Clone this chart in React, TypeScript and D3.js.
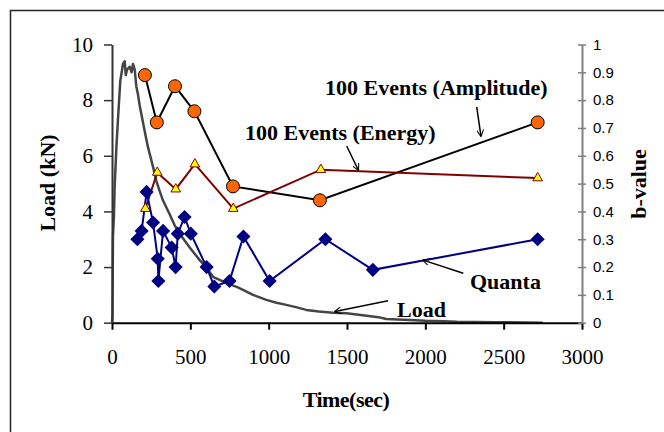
import React, { useEffect, useRef } from "react";
import * as d3 from "d3";

// Load curve (time in sec, load in kN)
const loadTime = [
  0, 3, 6, 12, 17, 28, 38, 53, 62, 70, 81, 88, 96, 113, 125, 134, 145, 155,
  166, 177, 198, 215, 230, 262, 283, 300, 325, 368, 400, 432, 496, 560, 600,
  645, 700, 730, 800, 836, 900, 985, 1050, 1113, 1180, 1240, 1320, 1411, 1496,
  1600, 1700, 1750, 1900, 2000, 2120, 2200, 2450, 2750,
];
const loadKN = [
  0, 0.3, 3.1, 3.8, 4.9, 6.3, 7.3, 8.7, 9.0, 9.3, 9.4, 8.9, 9.1, 9.2, 9.0, 9.3,
  9.1, 8.5, 8.2, 7.8, 7.2, 6.7, 6.3, 5.6, 5.1, 4.8, 4.4, 3.9, 3.5, 3.2, 2.7,
  2.25, 2.0, 1.65, 1.5, 1.42, 1.28, 1.18, 1.0, 0.82, 0.72, 0.64, 0.55, 0.46,
  0.4, 0.36, 0.34, 0.27, 0.2, 0.13, 0.1, 0.07, 0.05, 0.03, 0.02, 0,
];

// b-value series
const amplitudeTime = [210, 286, 402, 526, 772, 1327, 2717];
const amplitudeB = [0.89, 0.72, 0.85, 0.76, 0.49, 0.44, 0.72];
const energyTime = [213, 289, 407, 529, 774, 1333, 2717];
const energyB = [0.41, 0.54, 0.48, 0.57, 0.41, 0.55, 0.52];
const quantaTime = [
  162, 189, 221, 262, 292, 296, 326, 381, 406, 420, 463, 503, 604, 653, 750,
  839, 1006, 1362, 1665, 2717,
];
const quantaB = [
  0.3, 0.33, 0.47, 0.36, 0.23, 0.15, 0.33, 0.27, 0.2, 0.32, 0.38, 0.32, 0.2,
  0.13, 0.15, 0.31, 0.15, 0.3, 0.19, 0.3,
];

// ticks
const timeTicks = [0, 500, 1000, 1500, 2000, 2500, 3000];
const loadTicks = [0, 2, 4, 6, 8, 10];
const bTicks = [0, 0.1, 0.2, 0.3, 0.4, 0.5, 0.6, 0.7, 0.8, 0.9, 1];

// annotations: label [t, kN] and arrow [t0, kN0, t1, kN1]
const annotations = [
  { text: "100 Events (Amplitude)", at: [1360, 8.18], arrow: [2328, 7.76, 2355, 6.71] },
  { text: "100 Events (Energy)", at: [849, 6.57], arrow: [1498, 6.35, 1572, 5.49] },
  { text: "Quanta", at: [2285, 1.21], arrow: [2242, 1.78, 1986, 2.25] },
  { text: "Load", at: [1819, 0.2], arrow: [1762, 0.79, 1423, 0.4] },
];

const App: React.FC = () => {
  const svgRef = useRef<SVGSVGElement>(null);
  const width = 664;
  const height = 432;

  useEffect(() => {
    if (!svgRef.current) return;
    const svg = d3.select(svgRef.current);
    svg.selectAll("*").remove();

    const left = 112;
    const right = 582;
    const top = 44.5;
    const bottom = 322.7;

    const x = d3.scaleLinear().domain([0, 3000]).range([left, right]);
    const y = d3.scaleLinear().domain([0, 10]).range([bottom, top]);
    const yb = d3.scaleLinear().domain([0, 1]).range([bottom, top]);

    const serif = "'Liberation Serif', 'Times New Roman', serif";
    const sans = "'Liberation Sans', Arial, sans-serif";

    // outer frame
    svg
      .append("rect")
      .attr("x", 10.5)
      .attr("y", 10.5)
      .attr("width", 800)
      .attr("height", 600)
      .attr("fill", "none")
      .attr("stroke", "#222")
      .attr("stroke-width", 1.5);

    const defs = svg.append("defs");
    defs
      .append("marker")
      .attr("id", "arrow")
      .attr("viewBox", "0 0 10 10")
      .attr("refX", 9)
      .attr("refY", 5)
      .attr("markerWidth", 7)
      .attr("markerHeight", 7)
      .attr("markerUnits", "userSpaceOnUse")
      .attr("orient", "auto")
      .append("path")
      .attr("d", "M0,0L10,5L0,10")
      .attr("fill", "none")
      .attr("stroke", "#000")
      .attr("stroke-width", 1.5);

    // Load curve
    const loadData = loadTime.map((t, i) => [t, loadKN[i]] as [number, number]);
    svg
      .append("path")
      .datum(loadData)
      .attr("fill", "none")
      .attr("stroke", "#444")
      .attr("stroke-width", 2.5)
      .attr("stroke-linejoin", "round")
      .attr(
        "d",
        d3
          .line<[number, number]>()
          .x((d) => x(d[0]))
          .y((d) => y(d[1]))
      );

    // X axis
    svg
      .append("g")
      .attr("transform", `translate(0,${bottom})`)
      .call(
        d3
          .axisBottom(x)
          .tickValues(timeTicks)
          .tickFormat(d3.format("d"))
          .tickSizeInner(7)
          .tickSizeOuter(0)
          .tickPadding(19)
      )
      .call((g) => g.select(".domain").attr("stroke", "#000").attr("stroke-width", 2))
      .call((g) => g.selectAll(".tick line").attr("stroke", "#000").attr("stroke-width", 2))
      .call((g) =>
        g.selectAll(".tick text").attr("font-family", serif).attr("font-size", 21).attr("fill", "#000")
      );

    // Left axis
    svg
      .append("g")
      .attr("transform", `translate(${left},0)`)
      .call(
        d3
          .axisLeft(y)
          .tickValues(loadTicks)
          .tickSizeInner(8)
          .tickSizeOuter(0)
          .tickPadding(11)
      )
      .call((g) => g.select(".domain").attr("stroke", "#333").attr("stroke-width", 2))
      .call((g) => g.selectAll(".tick line").attr("stroke", "#333").attr("stroke-width", 1.5))
      .call((g) =>
        g.selectAll(".tick text").attr("font-family", serif).attr("font-size", 21).attr("fill", "#000")
      );

    // Right axis (b-value)
    svg
      .append("g")
      .attr("transform", `translate(${right},0)`)
      .call(
        d3
          .axisRight(yb)
          .tickValues(bTicks)
          .tickFormat((d) => String(+d))
          .tickSizeInner(4)
          .tickSizeOuter(0)
          .tickPadding(7)
      )
      .call((g) => g.select(".domain").attr("stroke", "#808080").attr("stroke-width", 2))
      .call((g) =>
        g.selectAll(".tick line").attr("x1", -4).attr("stroke", "#808080").attr("stroke-width", 1.5)
      )
      .call((g) =>
        g.selectAll(".tick text").attr("font-family", sans).attr("font-size", 15).attr("fill", "#000")
      );

    const bLine = d3
      .line<[number, number]>()
      .x((d) => x(d[0]))
      .y((d) => yb(d[1]));

    // Amplitude series
    const ampData = amplitudeTime.map((t, i) => [t, amplitudeB[i]] as [number, number]);
    svg
      .append("path")
      .datum(ampData)
      .attr("fill", "none")
      .attr("stroke", "#000")
      .attr("stroke-width", 2)
      .attr("d", bLine);

    // Energy series
    const enData = energyTime.map((t, i) => [t, energyB[i]] as [number, number]);
    svg
      .append("path")
      .datum(enData)
      .attr("fill", "none")
      .attr("stroke", "#800000")
      .attr("stroke-width", 2)
      .attr("d", bLine);

    // Quanta series
    const qData = quantaTime.map((t, i) => [t, quantaB[i]] as [number, number]);
    svg
      .append("path")
      .datum(qData)
      .attr("fill", "none")
      .attr("stroke", "#000080")
      .attr("stroke-width", 2)
      .attr("d", bLine);

    svg
      .append("g")
      .selectAll("path")
      .data(qData)
      .join("path")
      .attr("transform", (d) => `translate(${x(d[0])},${yb(d[1])}) rotate(45)`)
      .attr("d", d3.symbol(d3.symbolSquare, 100)())
      .attr("fill", "#000080");

    svg
      .append("g")
      .selectAll("path")
      .data(enData)
      .join("path")
      .attr("transform", (d) => `translate(${x(d[0])},${yb(d[1])})`)
      .attr("d", d3.symbol(d3.symbolTriangle, 40)())
      .attr("fill", "#ffff00")
      .attr("stroke", "#800000")
      .attr("stroke-width", 1);

    svg
      .append("g")
      .selectAll("circle")
      .data(ampData)
      .join("circle")
      .attr("cx", (d) => x(d[0]))
      .attr("cy", (d) => yb(d[1]))
      .attr("r", 6.5)
      .attr("fill", "#ff6600")
      .attr("stroke", "#000")
      .attr("stroke-width", 1);

    // annotations
    annotations.forEach((a) => {
      svg
        .append("text")
        .attr("x", x(a.at[0]))
        .attr("y", y(a.at[1]))
        .attr("font-family", serif)
        .attr("font-weight", "bold")
        .attr("font-size", 22)
        .attr("fill", "#000")
        .text(a.text);
      svg
        .append("line")
        .attr("x1", x(a.arrow[0]))
        .attr("y1", y(a.arrow[1]))
        .attr("x2", x(a.arrow[2]))
        .attr("y2", y(a.arrow[3]))
        .attr("stroke", "#000")
        .attr("stroke-width", 1.5)
        .attr("marker-end", "url(#arrow)");
    });

    // axis titles
    svg
      .append("text")
      .attr("transform", `translate(55,183) rotate(-90)`)
      .attr("text-anchor", "middle")
      .attr("font-family", serif)
      .attr("font-weight", "bold")
      .attr("font-size", 22)
      .text("Load (kN)");

    svg
      .append("text")
      .attr("transform", `translate(646,184) rotate(-90)`)
      .attr("text-anchor", "middle")
      .attr("font-family", serif)
      .attr("font-weight", "bold")
      .attr("font-size", 22)
      .text("b-value");

    svg
      .append("text")
      .attr("x", 346)
      .attr("y", 407)
      .attr("text-anchor", "middle")
      .attr("font-family", serif)
      .attr("font-weight", "bold")
      .attr("font-size", 22)
      .attr("letter-spacing", -0.5)
      .text("Time(sec)");
  }, []);

  return (
    <svg
      ref={svgRef}
      width={width}
      height={height}
      style={{ position: "absolute", left: 0, top: 0, background: "#fff" }}
    />
  );
};

export default App;
